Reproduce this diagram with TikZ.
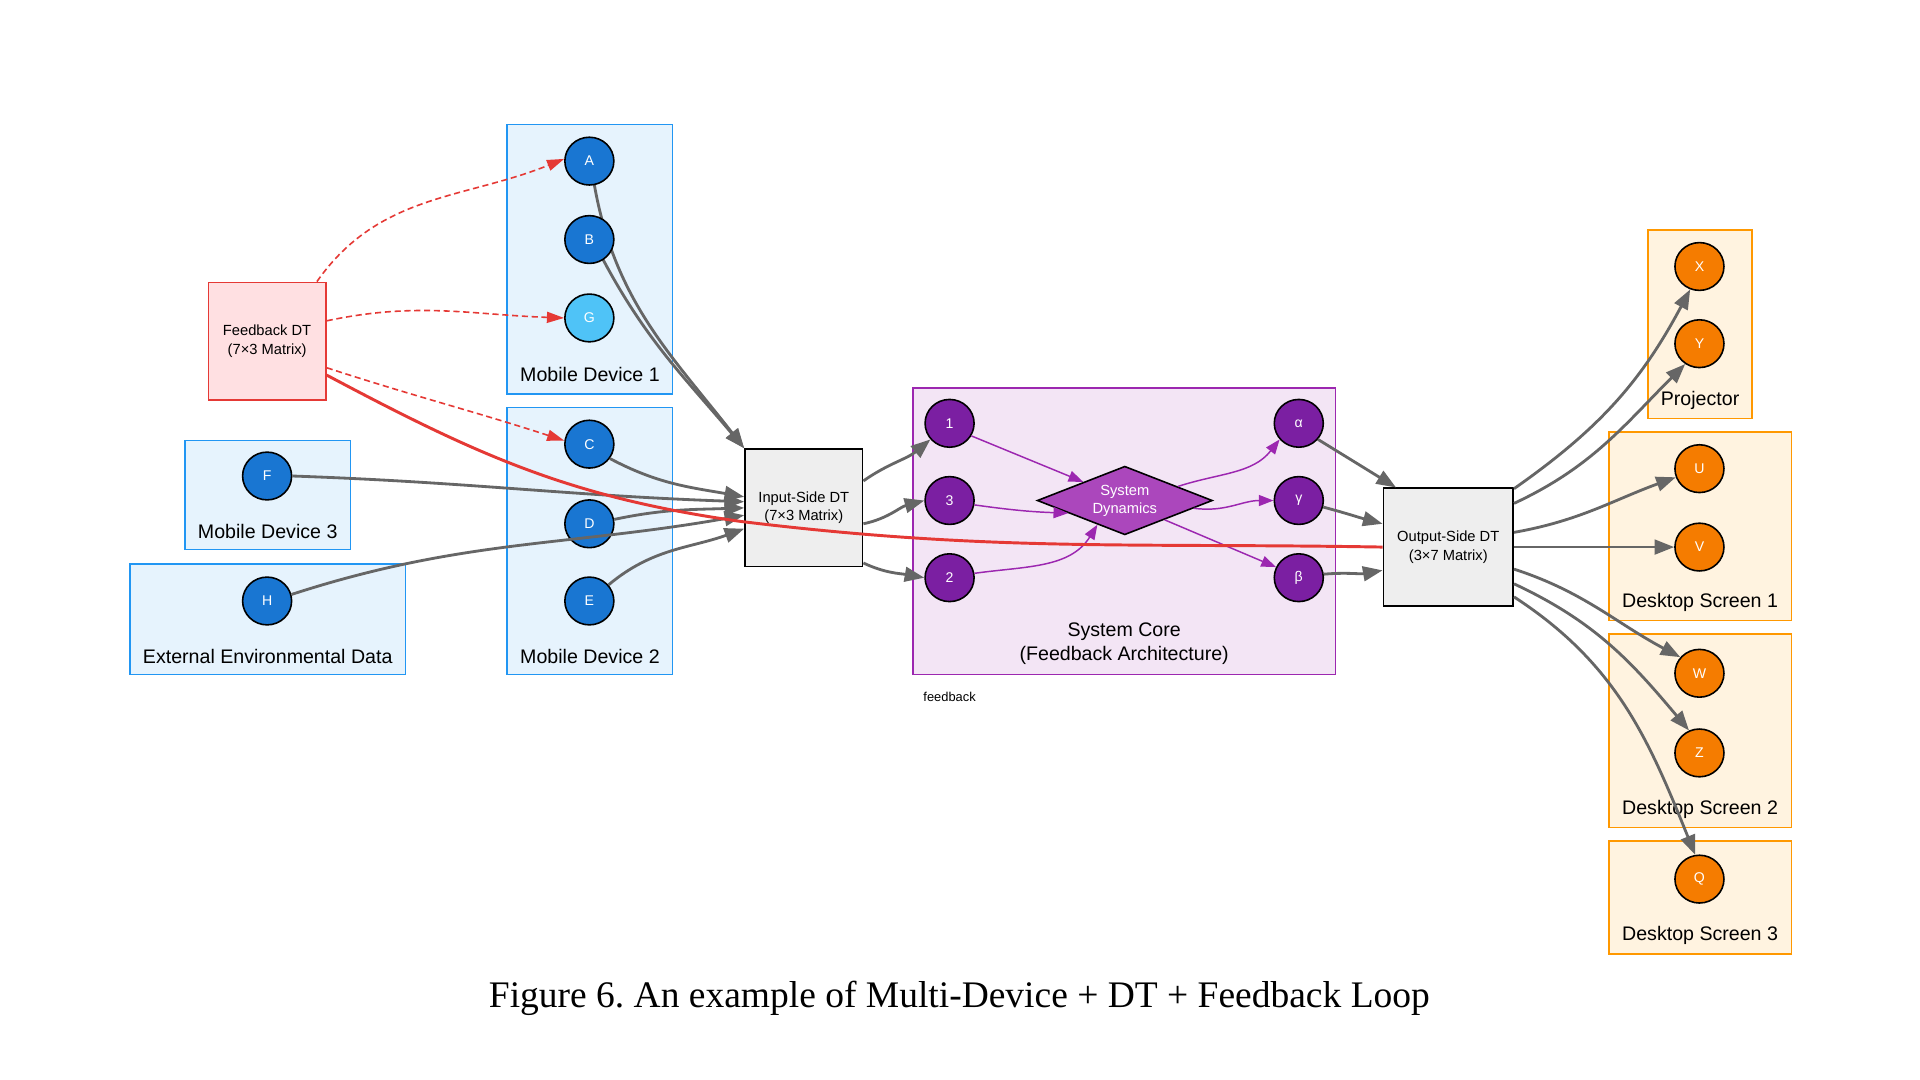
\documentclass[tikz,border=0pt]{standalone}
\usepackage{fontspec}
\setmainfont{Liberation Sans}
\newfontfamily\titlefont{Liberation Serif}
\usetikzlibrary{shapes.geometric,arrows.meta,calc}
\definecolor{gline}{HTML}{666666}
\definecolor{bluefill}{HTML}{E6F3FD}
\definecolor{blueborder}{HTML}{2196F3}
\definecolor{bluenode}{HTML}{1976D2}
\definecolor{lightbluenode}{HTML}{4FC3F7}
\definecolor{purplefill}{HTML}{F3E5F5}
\definecolor{purpleborder}{HTML}{9C27B0}
\definecolor{purplenode}{HTML}{7B1FA2}
\definecolor{diafill}{HTML}{AB47BC}
\definecolor{orangefill}{HTML}{FFF3E0}
\definecolor{orangeborder}{HTML}{FF9800}
\definecolor{orangenode}{HTML}{F57C00}
\definecolor{fbfill}{HTML}{FFE0E2}
\definecolor{fbred}{HTML}{E53935}
\definecolor{dtfill}{HTML}{EEEEEE}
\tikzset{
  bluecl/.style={draw=blueborder,fill=bluefill,line width=1.3pt},
  purplecl/.style={draw=purpleborder,fill=purplefill,line width=1.3pt},
  orangecl/.style={draw=orangeborder,fill=orangefill,line width=1.3pt},
  cllabel/.style={font=\fontsize{16}{20}\selectfont,align=center,inner sep=0pt},
  dot/.style={ellipse,draw=black,line width=1.3pt,minimum width=40pt,minimum height=39pt,inner sep=0pt,text=white,font=\fontsize{11.5}{12}\selectfont},
  bdot/.style={dot,fill=bluenode},
  lbdot/.style={dot,fill=lightbluenode},
  pdot/.style={dot,fill=purplenode},
  odot/.style={dot,fill=orangenode},
  dtbox/.style={rectangle,draw=black,line width=1.3pt,fill=dtfill,minimum width=96pt,minimum height=96pt,inner sep=0pt,align=center,font=\fontsize{12}{15}\selectfont},
  fbbox/.style={rectangle,draw=fbred,line width=1.3pt,fill=fbfill,minimum width=96pt,minimum height=96pt,inner sep=0pt,align=center,font=\fontsize{12}{15}\selectfont},
  diabox/.style={diamond,aspect=2.55,draw=black,line width=1.3pt,fill=diafill,inner sep=0pt,minimum width=143pt,minimum height=56pt,align=center,text=white,font=\fontsize{12}{14.5}\selectfont},
  garrow/.style={draw=gline,line width=2.3pt,-{Triangle[length=16pt,width=12pt]}},
  parrow/.style={draw=purpleborder,line width=1.2pt,-{Triangle[length=12pt,width=9pt]}},
  rdash/.style={draw=fbred,line width=1.3pt,dash pattern=on 5pt off 3pt,-{Triangle[length=14pt,width=9pt]}},
  rsolid/.style={draw=fbred,line width=2.4pt},
}
\begin{document}
\frenchspacing
\begin{tikzpicture}[x=1pt,y=1pt]
\useasboundingbox (0,-3.5) rectangle (1567,877.5);
\fill[white] (0,-3.5) rectangle (1567,877.5);

% clusters
\draw[bluecl] (414,776) rectangle (549,556);
\node[cllabel] (md1l) at (481.5,572) {Mobile Device 1};
\draw[bluecl] (414,545) rectangle (549,327);
\node[cllabel] (md2l) at (481.5,342) {Mobile Device 2};
\draw[bluecl] (151,518) rectangle (286,429);
\node[cllabel] (md3l) at (218.5,444) {Mobile Device 3};
\draw[bluecl] (106,417) rectangle (331,327);
\node[cllabel] (eedl) at (218.5,342) {External Environmental Data};
\draw[purplecl] (745,561) rectangle (1090,327);
\node[cllabel] (scl) at (917.5,352) {System Core\\(Feedback Architecture)};
\draw[orangecl] (1345,690) rectangle (1430,536);
\node[cllabel] (prl) at (1387.5,551) {Projector};
\draw[orangecl] (1313,525) rectangle (1462,371);
\node[cllabel] (ds1l) at (1387.5,386) {Desktop Screen 1};
\draw[orangecl] (1313,360) rectangle (1462,202);
\node[cllabel] (ds2l) at (1387.5,217) {Desktop Screen 2};
\draw[orangecl] (1313,191) rectangle (1462,99);
\node[cllabel] (ds3l) at (1387.5,114) {Desktop Screen 3};

% boxes
\node[fbbox] (fb) at (218,599) {Feedback DT\\(7×3 Matrix)};
\node[dtbox] (inp) at (656,463) {Input-Side DT\\(7×3 Matrix)};
\node[dtbox,minimum width=106pt] (outp) at (1182,431) {Output-Side DT\\(3×7 Matrix)};
\node[diabox] (dia) at (918,469) {System\\Dynamics};

% gray edges into input (drawn before nodes)
\coordinate (a0) at (485,727);
\draw[garrow] (a0) to[out=-80,in=128] (inp.north west);
\coordinate (b0) at (492,666);
\draw[garrow] (b0) to[out=-62,in=130] (inp.north west);

% device nodes
\node[bdot] (A) at (481,746) {A};
\node[bdot] (B) at (481,682) {B};
\node[lbdot] (G) at (481,618) {G};
\node[bdot] (C) at (481,515) {C};
\node[bdot] (D) at (481,450) {D};
\node[bdot] (E) at (481,387) {E};
\node[bdot] (F) at (218,489) {F};
\node[bdot] (H) at (218,387) {H};

\node[pdot] (n1) at (775,532) {1};
\node[pdot] (n3) at (775,469) {3};
\node[pdot] (n2) at (775,406) {2};
\node[pdot] (na) at (1060,532) {α};
\node[pdot] (ng) at (1060,469) {γ};
\node[pdot] (nb) at (1060,406) {β};

\node[odot] (X) at (1387,660) {X};
\node[odot] (Y) at (1387,597) {Y};
\node[odot] (U) at (1387,495) {U};
\node[odot] (V) at (1387,431) {V};
\node[odot] (W) at (1387,328) {W};
\node[odot] (Z) at (1387,263) {Z};
\node[odot] (Q) at (1387,160) {Q};

% edges into input side
\draw[garrow] (C.-35) to[out=-28,in=170] ([yshift=9]inp.west);
\draw[garrow] (F.east) to[out=-2,in=178] ([yshift=5]inp.west);
\draw[garrow] (D.10) to[out=12,in=182] ([yshift=0]inp.west);
\draw[garrow] (H.15) to[out=18,in=190] ([yshift=-6]inp.west);
\draw[garrow] (E.40) to[out=40,in=200] ([yshift=-17]inp.west);

% input to core
\draw[garrow] ([yshift=22]inp.east) to[out=35,in=-140] (n1.220);
\draw[garrow] ([yshift=-13]inp.east) to[out=12,in=195] (n3.west);
\draw[garrow] ([yshift=-45]inp.east) to[out=-25,in=170] (n2.west);

% core internal
\draw[parrow] (n1.-30) -- ($(dia.west)!0.53!(dia.north)$);
\draw[parrow] (n3.-10) to[out=-8,in=178] ($(dia.west)!0.36!(dia.south)$);
\draw[parrow] (n2.10) to[out=8,in=-122] ($(dia.west)!0.69!(dia.south)$);
\draw[parrow] ($(dia.north)!0.6!(dia.east)$) to[out=18,in=-128] (na.-140);
\draw[parrow] ($(dia.east)!0.22!(dia.south)$) to[out=-8,in=180] (ng.west);
\draw[parrow] ($(dia.south)!0.45!(dia.east)$) -- (nb.155);

% core to output
\draw[garrow] (na.-40) -- ([xshift=11]outp.north west);
\draw[garrow] (ng.-15) to[out=-15,in=165] ([yshift=19]outp.west);
\draw[garrow] (nb.8) to[out=5,in=190] ([yshift=-19]outp.west);

% output to screens
\draw[garrow] ([yshift=-1]outp.north east) to[out=35,in=-118] (X.-112);
\draw[garrow] ([yshift=-13]outp.north east) to[out=25,in=-135] (Y.-125);
\draw[garrow] ([yshift=12]outp.east) to[out=10,in=200] (U.200);
\draw[garrow] (outp.east) -- (V.west);
\draw[garrow] ([yshift=-18]outp.east) to[out=-18,in=152] (W.140);
\draw[garrow] ([yshift=-30]outp.east) to[out=-25,in=130] (Z.115);
\draw[garrow] ([yshift=8]outp.south east) to[out=-33,in=112] (Q.100);

% feedback edges
\draw[rdash] ([xshift=-8]fb.north east) to[out=55,in=-158] (A.175);
\draw[rdash] ([yshift=-32]fb.north east) to[out=12,in=178] (G.west);
\draw[rdash] ([yshift=27]fb.south east) to[out=-18,in=162] (C.172);
\coordinate (rbend) at (604,452);
\draw[rsolid] ([yshift=21]fb.south east) to[out=-28,in=172] (rbend) to[out=-7,in=179] (outp.west);
\node[font=\fontsize{10.5}{12}\selectfont,inner sep=0pt] (fbl) at (775,309) {feedback};

% title
\node[font=\titlefont\fontsize{30.6}{36}\selectfont,inner sep=0pt] (title) at (783,63) {Figure 6. An example of Multi-Device + DT + Feedback Loop};
\end{tikzpicture}
\end{document}
